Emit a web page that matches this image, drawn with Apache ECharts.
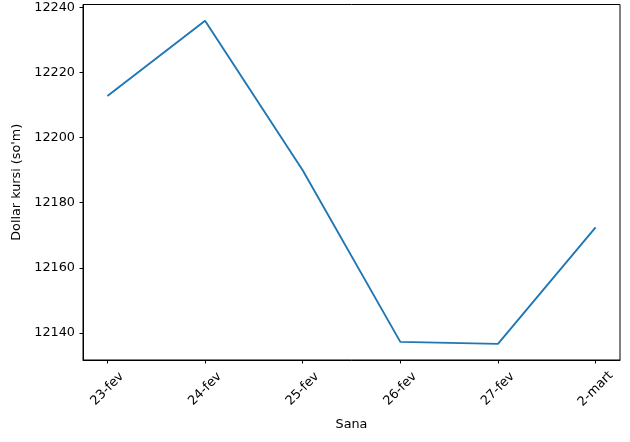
<!DOCTYPE html>
<html>
<head>
<meta charset="utf-8">
<script src="https://cdn.jsdelivr.net/npm/echarts@6/dist/echarts.min.js"></script>
<style>html,body{margin:0;padding:0;background:#fff;}#c{width:630px;height:442px;}</style>
</head>
<body>
<div id="c"></div>
<script>
const categories = ['23-fev', '24-fev', '25-fev', '26-fev', '27-fev', '2-mart'];
const values = [12212.8, 12236.0, 12190.0, 12137.2, 12136.6, 12172.4];
const yTicks = [12140, 12160, 12180, 12200, 12220, 12240];

const chart = echarts.init(document.getElementById('c'), null, {renderer: 'canvas'});
const font = 'DejaVu Sans';
const xIdx = categories.map((c, i) => i);
const dMin = Math.min(...values), dMax = Math.max(...values);
const pad = (dMax - dMin) * 0.05;
chart.setOption({
  animation: false,
  backgroundColor: '#fff',
  grid: {left: 83, right: 10, top: 4.5, bottom: 82, show: true, borderColor: '#000', borderWidth: 1, backgroundColor: 'transparent'},
  xAxis: {
    type: 'value',
    min: -0.25, max: categories.length - 1 + 0.25,
    name: 'Sana', nameLocation: 'middle', nameGap: 58,
    nameTextStyle: {fontFamily: font, fontSize: 12.8, color: '#000'},
    axisLine: {show: true, onZero: false, lineStyle: {color: '#000', width: 1}},
    axisTick: {show: true, customValues: xIdx, length: 3.5, lineStyle: {color: '#000'}},
    axisLabel: {customValues: xIdx, formatter: v => categories[Math.round(v)], rotate: 45, align: 'center', verticalAlign: 'middle', margin: 29, fontFamily: font, fontSize: 12.8, color: '#000'},
    splitLine: {show: false}
  },
  yAxis: {
    type: 'value',
    min: dMin - pad, max: dMax + pad,
    name: "Dollar kursi (so'm)", nameLocation: 'middle', nameGap: 58,
    nameTextStyle: {fontFamily: font, fontSize: 12.8, color: '#000'},
    axisLine: {show: true, onZero: false, lineStyle: {color: '#000', width: 1}},
    axisTick: {show: true, customValues: yTicks, length: 3.5, lineStyle: {color: '#000'}},
    axisLabel: {customValues: yTicks, formatter: v => String(Math.round(v)), margin: 8, fontFamily: font, fontSize: 12.8, color: '#000'},
    splitLine: {show: false}
  },
  series: [{
    type: 'line',
    data: values.map((v, i) => [i, v]),
    showSymbol: false,
    lineStyle: {color: '#1f77b4', width: 1.9},
    itemStyle: {color: '#1f77b4'}
  }]
});
</script>
</body>
</html>
